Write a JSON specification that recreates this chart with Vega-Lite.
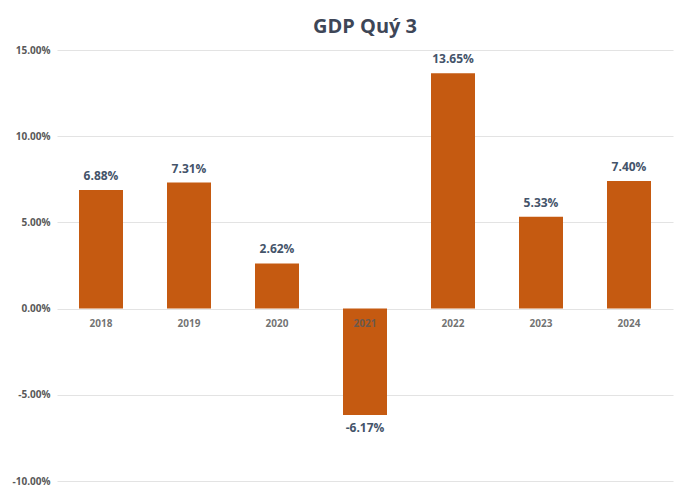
{
  "$schema": "https://vega.github.io/schema/vega-lite/v6.json",
  "width": 616,
  "height": 431,
  "autosize": {"type": "none"},
  "padding": {"left": 57, "top": 50, "right": 10, "bottom": 14},
  "background": "white",
  "title": {
    "text": "GDP Quý 3",
    "font": "Open Sans",
    "fontSize": 20,
    "fontWeight": "bold",
    "color": "#3E4657",
    "anchor": "middle",
    "frame": "group",
    "offset": 6,
    "dy": -2
  },
  "data": {
    "values": [
      {"year": "2018", "gdp": 0.0688},
      {"year": "2019", "gdp": 0.0731},
      {"year": "2020", "gdp": 0.0262},
      {"year": "2021", "gdp": -0.0617},
      {"year": "2022", "gdp": 0.1365},
      {"year": "2023", "gdp": 0.0533},
      {"year": "2024", "gdp": 0.074}
    ]
  },
  "encoding": {
    "x": {
      "field": "year",
      "type": "ordinal",
      "title": null,
      "scale": {"paddingInner": 0.5, "paddingOuter": 0.25},
      "axis": {
        "offset": -172,
        "zindex": 1,
        "domain": false,
        "ticks": false,
        "labelAngle": 0,
        "labelPadding": 9,
        "labelFont": "Open Sans",
        "labelFontSize": 10,
        "labelFontWeight": "bold",
        "labelColor": "#595959",
        "labelOpacity": 0.85
      }
    },
    "y": {
      "field": "gdp",
      "type": "quantitative",
      "title": null,
      "scale": {"domain": [-0.1, 0.15], "nice": false},
      "axis": {
        "values": [-0.1, -0.05, 0, 0.05, 0.1, 0.15],
        "format": ".2%",
        "domain": false,
        "ticks": false,
        "labelPadding": 7,
        "labelFont": "Open Sans",
        "labelFontSize": 10,
        "labelFontWeight": "bold",
        "labelColor": "#595959",
        "gridColor": "#E3E3E3",
        "gridWidth": 1
      }
    }
  },
  "layer": [
    {
      "mark": {"type": "bar", "color": "#C55A11"}
    },
    {
      "transform": [{"filter": "datum.gdp >= 0"}],
      "mark": {
        "type": "text",
        "baseline": "bottom",
        "dy": -7,
        "font": "Open Sans",
        "fontSize": 12,
        "fontWeight": "bold",
        "color": "#44546A"
      },
      "encoding": {"text": {"field": "gdp", "type": "quantitative", "format": ".2%"}}
    },
    {
      "transform": [{"filter": "datum.gdp < 0"}],
      "mark": {
        "type": "text",
        "baseline": "top",
        "dy": 8,
        "font": "Open Sans",
        "fontSize": 12,
        "fontWeight": "bold",
        "color": "#44546A"
      },
      "encoding": {"text": {"field": "gdp", "type": "quantitative", "format": ".2%"}}
    }
  ],
  "config": {
    "view": {"stroke": null},
    "locale": {
      "number": {
        "decimal": ".",
        "thousands": ",",
        "grouping": [3],
        "currency": ["$", ""],
        "minus": "-"
      }
    }
  }
}
